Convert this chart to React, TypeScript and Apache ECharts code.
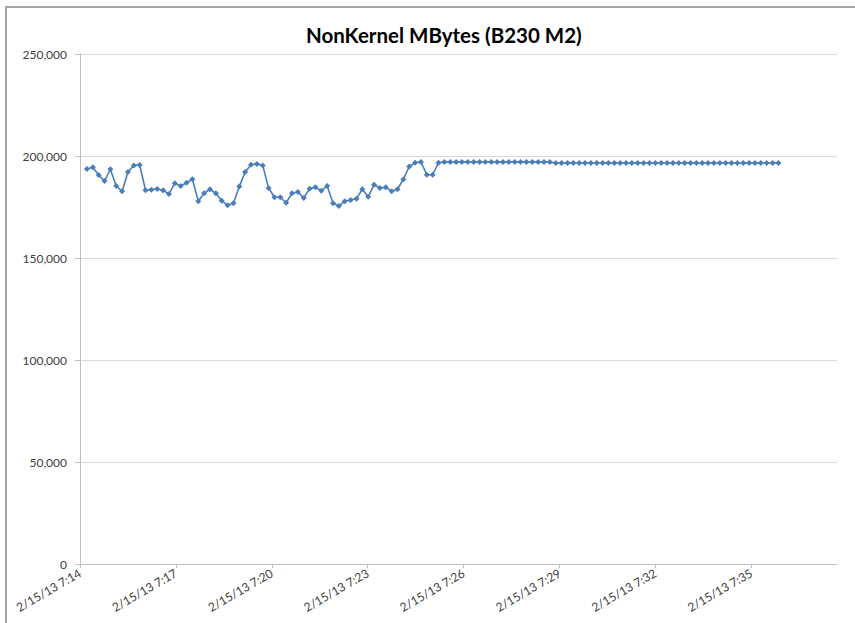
import React, { useEffect, useRef } from "react";
import * as echarts from "echarts";

const chartTitle = "NonKernel MBytes (B230 M2)";

const xTickLabels = [
  "2/15/13 7:14",
  "2/15/13 7:17",
  "2/15/13 7:20",
  "2/15/13 7:23",
  "2/15/13 7:26",
  "2/15/13 7:29",
  "2/15/13 7:32",
  "2/15/13 7:35",
];
const xTickStepSec = 180; // 3 minutes between labelled ticks
const xAxisMaxSec = 1421; // axis end, seconds after 7:14
const firstSampleSec = 13; // first sample, seconds after 7:14
const sampleStepSec = 11; // sampling period of the counter

const yMax = 250000;
const yStep = 50000;

const nonKernelMBytes = [
  193600, 194500, 190700, 187700, 193500, 185300, 182700, 192200, 195400, 195600,
  183200, 183500, 183800, 183200, 181400, 186600, 185300, 186900, 188600, 177800,
  181700, 183700, 181700, 178100, 175800, 176800, 185000, 192200, 195700, 196100,
  195400, 184300, 179800, 179800, 177100, 181700, 182400, 179400, 184000, 184700,
  183000, 185300, 176800, 175500, 177800, 178400, 179100, 183700, 180000, 185900,
  184300, 184700, 182700, 183700, 188600, 194800, 196700, 197100, 190800, 190800,
  196700,
  197000, 197000, 197000, 197000, 197000, 197000, 197000, 197000, 197000, 197000,
  197000, 197000, 197000, 197000, 197000, 197000, 197000, 197000, 197000,
  196600, 196600, 196600, 196600, 196600, 196600, 196600, 196600, 196600, 196600,
  196600, 196600, 196600, 196600, 196600, 196600, 196600, 196600, 196600, 196600,
  196600, 196600, 196600, 196600, 196600, 196600, 196600, 196600, 196600, 196600,
  196600, 196600, 196600, 196600, 196600, 196600, 196600, 196600, 196600,
];

const FONT = "Lato, 'Open Sans', sans-serif";

export default function App() {
  const ref = useRef<HTMLDivElement>(null);

  useEffect(() => {
    if (!ref.current) return;
    const chart = echarts.init(ref.current, null, { renderer: "svg" });
    const data = nonKernelMBytes.map((v, i) => [firstSampleSec + i * sampleStepSec, v]);

    chart.setOption({
      animation: false,
      backgroundColor: "#ffffff",
      title: {
        text: chartTitle,
        left: 301,
        top: 19,
        textStyle: {
          fontFamily: FONT,
          fontSize: 20.5,
          fontWeight: "bold",
          color: "#000000",
        },
      },
      graphic: [
        {
          type: "rect",
          z: -1,
          shape: { x: 6, y: 7, width: 900, height: 700 },
          style: { fill: "none", stroke: "#a6a6a6", lineWidth: 2 },
        },
      ],
      grid: { left: 80, right: 18, top: 54, bottom: 59, containLabel: false },
      xAxis: {
        type: "value",
        min: 0,
        max: xAxisMaxSec,
        interval: xTickStepSec,
        axisLine: { show: true, lineStyle: { color: "#bfbfbf", width: 1 } },
        axisTick: { show: true, length: 4, lineStyle: { color: "#bfbfbf" } },
        splitLine: { show: false },
        axisLabel: {
          rotate: 30,
          margin: 8,
          showMaxLabel: false,
          fontFamily: FONT,
          fontSize: 12,
          color: "#404040",
          formatter: (v: number) => {
            const idx = Math.round(v / xTickStepSec);
            return Math.abs(idx * xTickStepSec - v) < 1 ? xTickLabels[idx] ?? "" : "";
          },
        },
      },
      yAxis: {
        type: "value",
        min: 0,
        max: yMax,
        interval: yStep,
        axisLine: { show: true, lineStyle: { color: "#bfbfbf", width: 1 } },
        axisTick: { show: true, length: 5, lineStyle: { color: "#bfbfbf" } },
        splitLine: { show: true, lineStyle: { color: "#d9d9d9", width: 1 } },
        axisLabel: {
          margin: 13,
          fontFamily: FONT,
          fontSize: 12,
          color: "#404040",
          formatter: (v: number) => v.toLocaleString("en-US"),
        },
      },
      series: [
        {
          type: "line",
          data,
          symbol: "diamond",
          symbolSize: 6,
          showSymbol: true,
          lineStyle: { color: "#4a7ebb", width: 1.6 },
          itemStyle: { color: "#4a7ebb" },
        },
      ],
    });

    return () => chart.dispose();
  }, []);

  return (
    <div
      ref={ref}
      style={{ position: "absolute", left: 0, top: 0, width: 855, height: 623, background: "#fff" }}
    />
  );
}
